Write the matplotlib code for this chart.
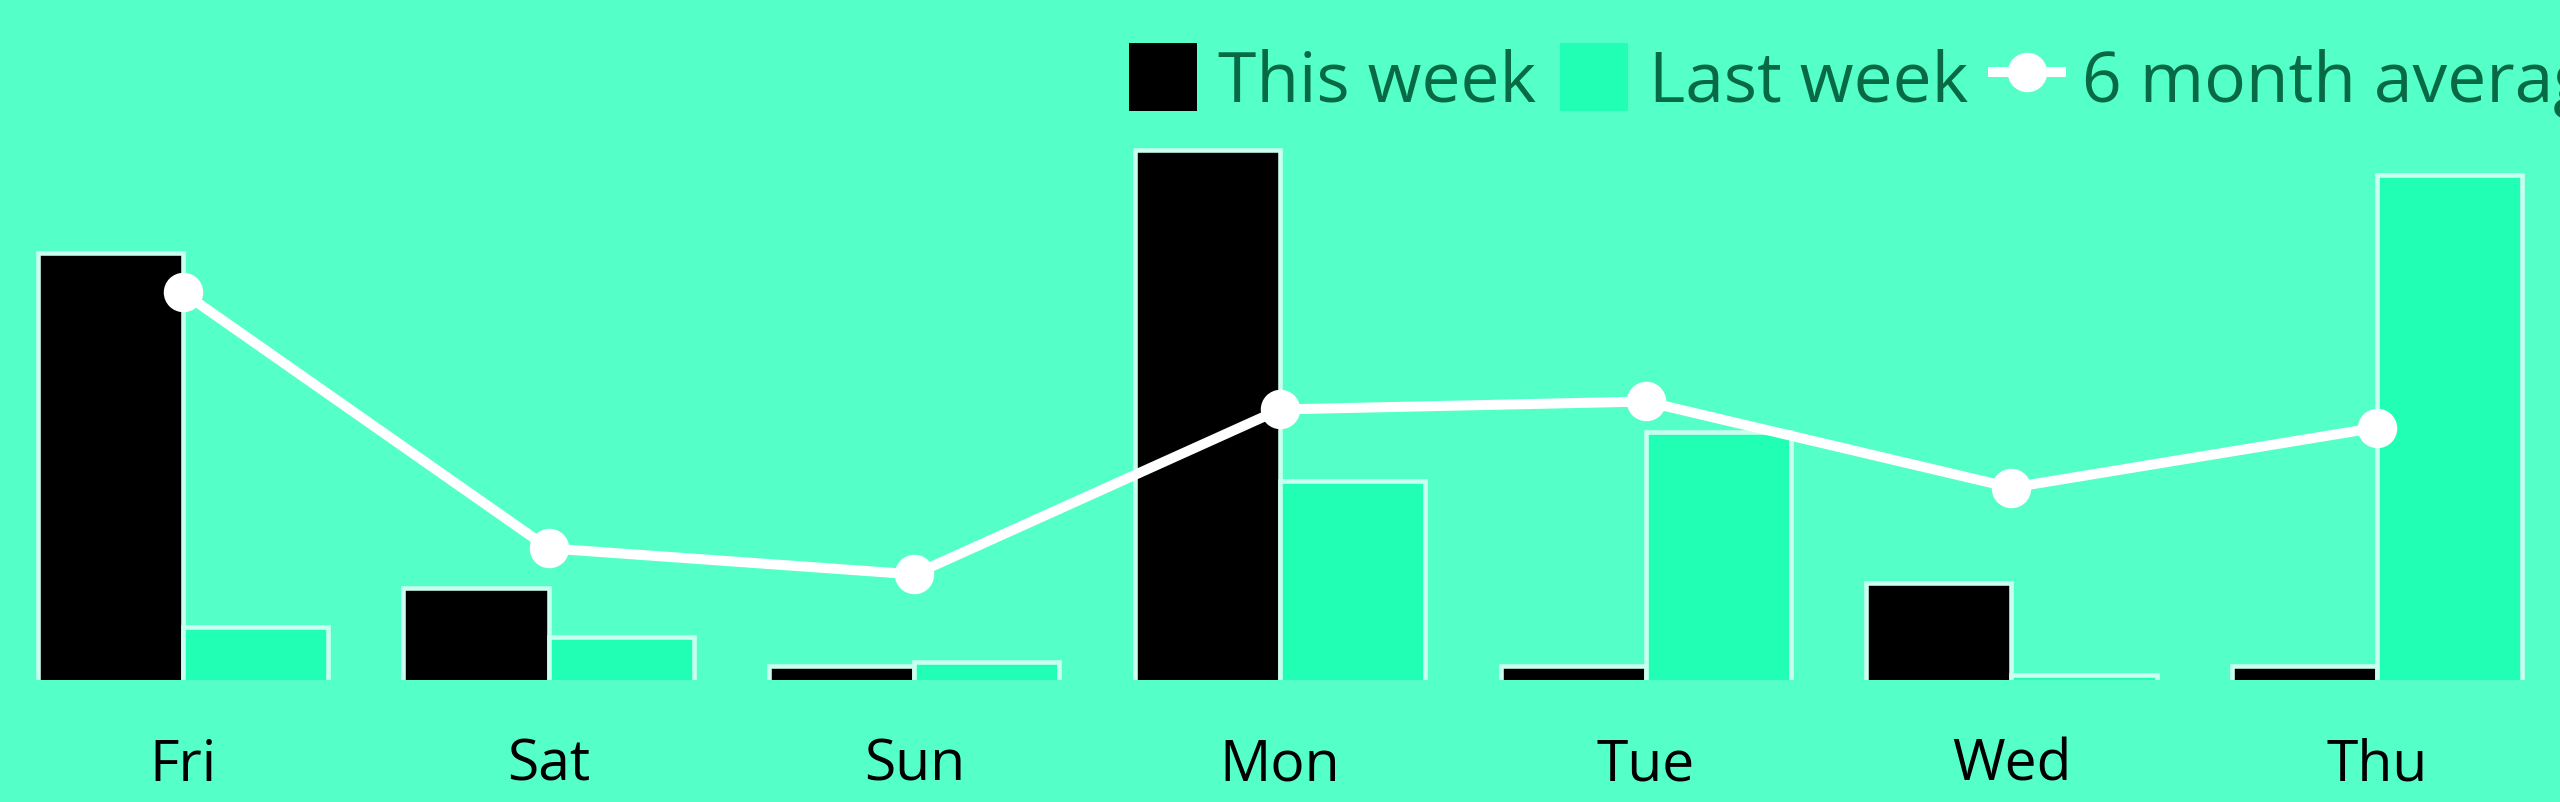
import matplotlib.pyplot as plt
from matplotlib.patches import Patch
from matplotlib.lines import Line2D
import numpy as np

plt.rcParams['font.family'] = ['Open Sans', 'DejaVu Sans']

days = ['Fri', 'Sat', 'Sun', 'Mon', 'Tue', 'Wed', 'Thu']
this_week = [80.8, 17.7, 3.0, 100.0, 3.0, 18.6, 3.0]
last_week = [10.5, 8.6, 3.9, 37.8, 47.0, 1.3, 95.3]
six_month_avg = [73.3, 25.2, 20.3, 51.3, 52.8, 36.6, 47.9]

bg = '#55ffc8'
last_col = '#20ffb4'
edge = '#c8fff0'
legend_txt = '#076a45'

W, H = 2560, 803
fig = plt.figure(figsize=(W / 100, H / 100), dpi=100, facecolor=bg)
base_px = 681
ax = fig.add_axes([0, (H - base_px) / H, 1, base_px / H])
ax.set_facecolor(bg)

x = np.arange(len(days))
w = 0.397
ax.bar(x - w / 2, this_week, w, color='black', edgecolor=edge, linewidth=3.3,
       zorder=2)
ax.bar(x + w / 2, last_week, w, color=last_col, edgecolor=edge, linewidth=3.3,
       zorder=2)
ax.plot(x, six_month_avg, color='white', lw=7.2, marker='o', ms=27.4,
        zorder=5)

# 1 data unit ~ 5.32 px
ax.set_xlim(-0.5, len(days) - 0.5)
ax.set_ylim(0.45, 0.45 + base_px / 5.32)

ax.set_xticks(x)
ax.set_xticklabels(days, fontsize=41, color='black')
ax.tick_params(axis='x', length=0, pad=41)
ax.set_yticks([])
for s in ax.spines.values():
    s.set_visible(False)

handles = [
    Patch(facecolor='black', edgecolor='none'),
    Patch(facecolor=last_col, edgecolor='none'),
    Line2D([], [], color='white', lw=7.2, marker='o', ms=27.4),
]
labels = ['This week', 'Last week', '6 month average']
leg = fig.legend(handles, labels, loc='upper left',
                 bbox_to_anchor=(1129 / W, 1 - 44 / H),
                 ncol=3, frameon=False, fontsize=50, handlelength=0.98,
                 handleheight=1.13, handletextpad=0.3, columnspacing=0.35,
                 borderpad=0, borderaxespad=0, labelcolor=legend_txt)

fig.savefig('out.png', dpi=100, facecolor=bg)
